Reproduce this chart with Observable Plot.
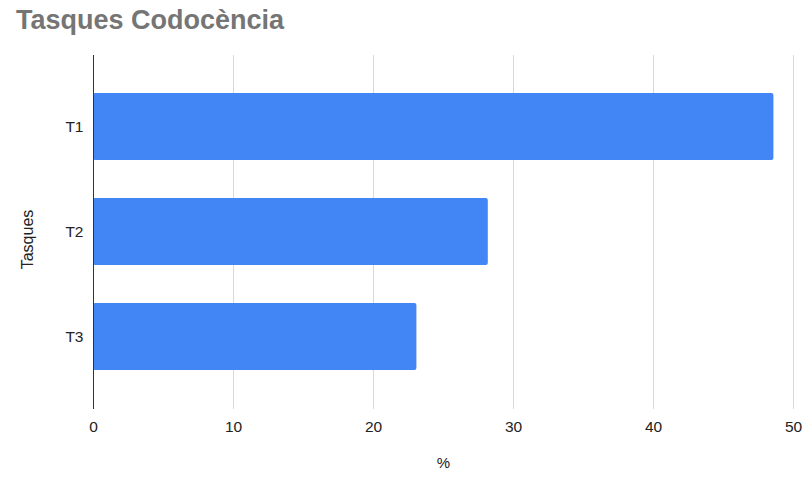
<!DOCTYPE html>
<html><head><meta charset="utf-8">
<script src="https://cdn.jsdelivr.net/npm/d3@7"></script>
<script src="https://cdn.jsdelivr.net/npm/@observablehq/plot@0.6"></script>
<style>
body{margin:0;background:#fff;font-family:"Liberation Sans",Arial,sans-serif}
#title{position:relative;height:45px}
#title span{position:absolute;left:16px;top:7px;font-size:27px;line-height:27px;font-weight:bold;color:#757575;white-space:nowrap}
#chart svg [aria-label$="tick label"] text{font-size:15.5px}
</style></head><body>
<div id="title"><span id="t"></span></div>
<div id="chart"></div>
<script>
const chartTitle = "Tasques Codocència";
const categories = ["T1", "T2", "T3"];
const values = [48.6, 28.2, 23.1];
const xTicks = [0, 10, 20, 30, 40, 50];
const xLabel = "%";
const yLabel = "Tasques";

document.getElementById("t").textContent = chartTitle;
const data = categories.map((c, i) => ({task: c, value: values[i]}));

const chart = Plot.plot({
  width: 805, height: 434,
  marginTop: 10, marginBottom: 70, marginLeft: 93, marginRight: 12,
  style: {fontFamily: "Liberation Sans, Arial, sans-serif", fontSize: "15px", color: "#222", background: "#fff"},
  x: {domain: [0, 50], ticks: xTicks},
  y: {domain: categories, padding: 0.36},
  marks: [
    Plot.gridX(xTicks.slice(1), {stroke: "#d9d9d9", strokeOpacity: 1}),
    Plot.barX(data, {x: "value", y: "task", fill: "#4285f4", rx: 2}),
    Plot.ruleX([0], {stroke: "#333", strokeWidth: 1}),
    Plot.axisX({ticks: xTicks, tickSize: 0, tickPadding: 11, label: null, fontSize: 15, fill: "#222"}),
    Plot.axisY({tickSize: 0, tickPadding: 10, label: null, fontSize: 15, fill: "#222"}),
    Plot.text([xLabel], {frameAnchor: "bottom", dy: 58, fontSize: 15, fill: "#222"}),
    Plot.text([yLabel], {frameAnchor: "left", dx: -66, dy: 7, rotate: -90, textAnchor: "middle", fontSize: 16, fill: "#222"})
  ]
});
document.getElementById("chart").appendChild(chart);
</script>
</body></html>
